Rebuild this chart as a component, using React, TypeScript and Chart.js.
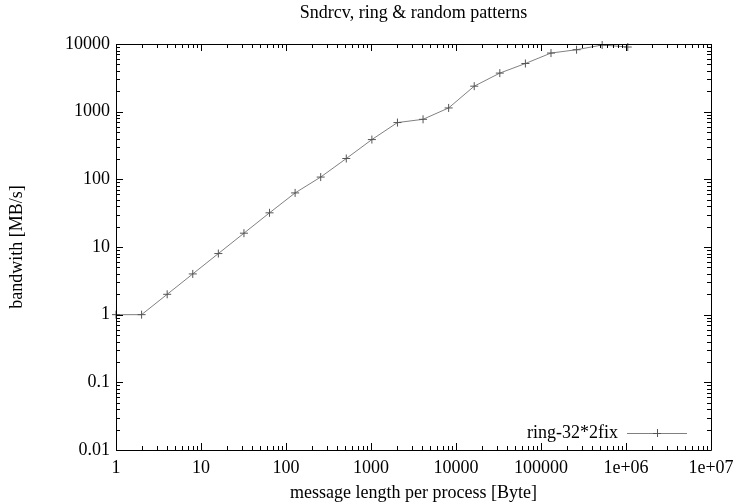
import React, { useEffect, useRef } from "react";
import { Chart, registerables } from "chart.js";

Chart.register(...registerables);

const chartTitle = "Sndrcv, ring & random patterns";
const xAxisTitle = "message length per process [Byte]";
const yAxisTitle = "bandwith [MB/s]";
const seriesLabel = "ring-32*2fix";

const messageSizes = [
  1, 2, 4, 8, 16, 32, 64, 128, 256, 512, 1024, 2048, 4096, 8192, 16384, 32768,
  65536, 131072, 262144, 524288, 1048576,
];
const bandwidth = [
  1, 1, 2, 4, 8, 16, 32, 63, 108, 203, 387, 690, 771, 1135, 2380, 3715, 5150,
  7350, 8230, 9670, 9020,
];

const xTickValues = [1, 10, 100, 1000, 10000, 100000, 1000000, 10000000];
const xTickLabels = ["1", "10", "100", "1000", "10000", "100000", "1e+06", "1e+07"];
const yTickValues = [0.01, 0.1, 1, 10, 100, 1000, 10000];
const yTickLabels = ["0.01", "0.1", "1", "10", "100", "1000", "10000"];

const FONT = "'Liberation Serif', 'Times New Roman', serif";
const FS = 18;

const framePlugin = {
  id: "gnuFrame",
  afterDatasetsDraw(chart: any) {
    const { ctx, chartArea: a, scales } = chart;
    const xs = scales.x;
    const ys = scales.y;
    ctx.save();
    ctx.strokeStyle = "#000";
    ctx.lineWidth = 1;
    ctx.beginPath();
    ctx.rect(Math.round(a.left) + 0.5, Math.round(a.top) + 0.5, Math.round(a.right - a.left), Math.round(a.bottom - a.top));
    ctx.stroke();
    const major = 7;
    const minor = 4;
    ctx.beginPath();
    for (let d = 0; d < xTickValues.length; d++) {
      const base = xTickValues[d];
      for (let m = 1; m <= 9; m++) {
        const v = base * m;
        if (v > xTickValues[xTickValues.length - 1]) break;
        const px = Math.round(xs.getPixelForValue(v)) + 0.5;
        const len = m === 1 ? major : minor;
        ctx.moveTo(px, a.bottom);
        ctx.lineTo(px, a.bottom - len);
        ctx.moveTo(px, a.top);
        ctx.lineTo(px, a.top + len);
      }
    }
    for (let d = 0; d < yTickValues.length; d++) {
      const base = yTickValues[d];
      for (let m = 1; m <= 9; m++) {
        const v = base * m;
        if (v > yTickValues[yTickValues.length - 1] * 1.0001) break;
        const py = Math.round(ys.getPixelForValue(v)) + 0.5;
        const len = m === 1 ? major : minor;
        ctx.moveTo(a.left, py);
        ctx.lineTo(a.left + len, py);
        ctx.moveTo(a.right, py);
        ctx.lineTo(a.right - len, py);
      }
    }
    ctx.stroke();

    ctx.fillStyle = "#000";
    ctx.font = `${FS}px ${FONT}`;
    ctx.textAlign = "center";
    ctx.textBaseline = "middle";
    ctx.fillText(chartTitle, (a.left + a.right) / 2, 13);

    const ds = chart.data.datasets[0];
    const ly = a.bottom - 17;
    const sx0 = a.right - 84;
    const sx1 = a.right - 24;
    ctx.textAlign = "right";
    ctx.fillText(ds.label, sx0 - 9, ly);
    ctx.strokeStyle = ds.borderColor;
    ctx.beginPath();
    ctx.moveTo(sx0, ly + 0.5);
    ctx.lineTo(sx1, ly + 0.5);
    ctx.stroke();
    const cx = Math.round((sx0 + sx1) / 2);
    ctx.strokeStyle = ds.pointBorderColor;
    ctx.beginPath();
    ctx.moveTo(cx - 4, ly + 0.5);
    ctx.lineTo(cx + 4, ly + 0.5);
    ctx.moveTo(cx + 0.5, ly - 4);
    ctx.lineTo(cx + 0.5, ly + 4);
    ctx.stroke();
    ctx.restore();
  },
};

export default function App() {
  const ref = useRef<HTMLCanvasElement>(null);
  useEffect(() => {
    document.body.style.margin = "0";
    const canvas = ref.current;
    if (!canvas) return;
    const chart = new Chart(canvas, {
      type: "line",
      data: {
        datasets: [
          {
            label: seriesLabel,
            data: messageSizes.map((x, i) => ({ x, y: bandwidth[i] })),
            borderColor: "#808080",
            borderWidth: 1,
            pointStyle: "cross",
            pointRadius: 4,
            pointBorderColor: "#555",
            pointBorderWidth: 1,
            pointBackgroundColor: "#555",
            fill: false,
            tension: 0,
            clip: false,
          },
        ],
      },
      options: {
        animation: false,
        responsive: false,
        layout: { padding: { top: 44, right: 0, bottom: 0, left: 0 } },
        plugins: {
          legend: { display: false },
          title: { display: false },
          tooltip: { enabled: false },
        },
        scales: {
          x: {
            type: "logarithmic",
            min: 1,
            max: 10000000,
            grid: { display: false, drawTicks: false },
            border: { display: false },
            afterBuildTicks: (s: any) => {
              s.ticks = xTickValues.map((v) => ({ value: v }));
            },
            afterFit: (s: any) => {
              s.height = 54;
              s.paddingLeft = 0;
              s.paddingRight = 23;
            },
            ticks: {
              autoSkip: false,
              maxRotation: 0,
              padding: 7,
              color: "#000",
              font: { family: FONT, size: FS },
              callback: (v: any) => {
                const i = xTickValues.indexOf(Number(v));
                return i >= 0 ? xTickLabels[i] : "";
              },
            },
            title: {
              display: true,
              text: xAxisTitle,
              color: "#000",
              font: { family: FONT, size: FS },
              padding: { top: 0, bottom: 0 },
            },
          },
          y: {
            type: "logarithmic",
            min: 0.01,
            max: 10000,
            grid: { display: false, drawTicks: false },
            border: { display: false },
            afterBuildTicks: (s: any) => {
              s.ticks = yTickValues.map((v) => ({ value: v }));
            },
            afterFit: (s: any) => {
              s.width = 116;
              s.paddingTop = 0;
              s.paddingBottom = 0;
            },
            ticks: {
              autoSkip: false,
              padding: 6,
              color: "#000",
              font: { family: FONT, size: FS },
              callback: (v: any) => {
                const i = yTickValues.findIndex((t) => Math.abs(t - Number(v)) / t < 1e-6);
                return i >= 0 ? yTickLabels[i] : "";
              },
            },
            title: {
              display: true,
              text: yAxisTitle,
              color: "#000",
              font: { family: FONT, size: FS },
              padding: { top: 6, bottom: 0 },
            },
          },
        },
      },
      plugins: [framePlugin],
    } as any);
    return () => chart.destroy();
  }, []);
  return (
    <div style={{ position: "absolute", left: 0, top: 0, width: 734, height: 504, background: "#fff" }}>
      <canvas ref={ref} width={734} height={504} style={{ display: "block" }} />
    </div>
  );
}
